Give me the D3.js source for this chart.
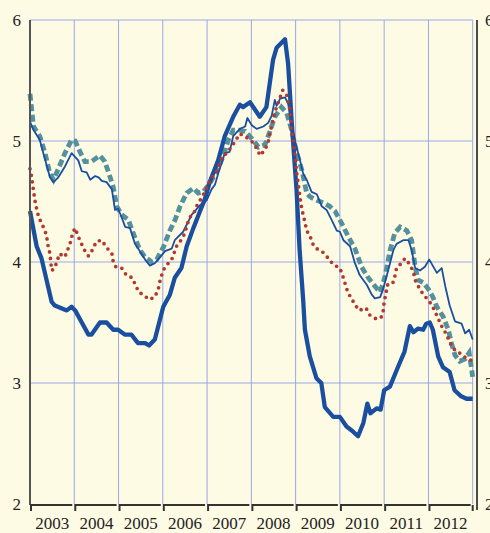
<!DOCTYPE html>
<html>
<head>
<meta charset="utf-8">
<script src="https://cdn.jsdelivr.net/npm/d3@7"></script>
<style>
  html, body { margin: 0; padding: 0; background: #fefbe5; overflow: hidden; }
</style>
</head>
<body>
<div id="chart"></div>
<script>
const years = [2003, 2004, 2005, 2006, 2007, 2008, 2009, 2010, 2011, 2012]
const yTicks = [2, 3, 4, 5, 6]

// [decimal year, value]
const heavyBlue = [
  [2003.00, 4.42], [2003.15, 4.13], [2003.26, 4.03], [2003.49, 3.67], [2003.56, 3.64],
  [2003.83, 3.60], [2003.94, 3.63], [2004.02, 3.60], [2004.17, 3.50], [2004.32, 3.40],
  [2004.39, 3.40], [2004.58, 3.50], [2004.73, 3.50], [2004.88, 3.44], [2004.99, 3.44],
  [2005.14, 3.40], [2005.29, 3.40], [2005.44, 3.33], [2005.60, 3.33], [2005.69, 3.31],
  [2005.82, 3.36], [2006.01, 3.63], [2006.16, 3.73], [2006.27, 3.87], [2006.42, 3.95],
  [2006.54, 4.13], [2006.69, 4.28], [2006.84, 4.42], [2006.95, 4.52], [2007.06, 4.66],
  [2007.25, 4.84], [2007.40, 5.04], [2007.59, 5.20], [2007.74, 5.30], [2007.81, 5.28],
  [2007.97, 5.32], [2008.19, 5.20], [2008.34, 5.28], [2008.49, 5.67], [2008.57, 5.77],
  [2008.76, 5.84], [2008.83, 5.64], [2008.91, 5.17], [2008.98, 4.80], [2009.02, 4.60],
  [2009.09, 4.10], [2009.17, 3.69], [2009.21, 3.44], [2009.32, 3.22], [2009.47, 3.04],
  [2009.58, 3.00], [2009.66, 2.80], [2009.85, 2.72], [2010.00, 2.72], [2010.15, 2.64],
  [2010.26, 2.61], [2010.41, 2.56], [2010.53, 2.67], [2010.62, 2.83], [2010.69, 2.75],
  [2010.83, 2.79], [2010.92, 2.78], [2011.00, 2.94], [2011.13, 2.97], [2011.31, 3.13],
  [2011.46, 3.26], [2011.58, 3.47], [2011.66, 3.42], [2011.77, 3.45], [2011.88, 3.44],
  [2011.95, 3.49], [2012.03, 3.50], [2012.10, 3.44], [2012.22, 3.22], [2012.33, 3.13],
  [2012.48, 3.09], [2012.59, 2.94], [2012.74, 2.89], [2012.86, 2.87], [2013.00, 2.87]
]

const thinBlue = [
  [2003.00, 5.16], [2003.08, 5.09], [2003.22, 5.01], [2003.30, 4.90], [2003.45, 4.70],
  [2003.53, 4.66], [2003.64, 4.70], [2003.79, 4.79], [2003.94, 4.90], [2004.09, 4.84],
  [2004.17, 4.75], [2004.28, 4.74], [2004.36, 4.68], [2004.47, 4.71], [2004.55, 4.70],
  [2004.62, 4.67], [2004.73, 4.66], [2004.85, 4.60], [2004.92, 4.43], [2004.99, 4.44],
  [2005.07, 4.37], [2005.15, 4.29], [2005.26, 4.28], [2005.37, 4.15], [2005.48, 4.09],
  [2005.60, 4.02], [2005.71, 3.97], [2005.82, 3.99], [2005.94, 4.04], [2006.05, 4.09],
  [2006.20, 4.11], [2006.27, 4.18], [2006.46, 4.25], [2006.65, 4.39], [2006.84, 4.47],
  [2006.99, 4.51], [2007.10, 4.60], [2007.18, 4.64], [2007.25, 4.73], [2007.40, 4.90],
  [2007.51, 4.91], [2007.59, 5.04], [2007.74, 5.10], [2007.86, 5.12], [2007.91, 5.19],
  [2008.01, 5.13], [2008.12, 5.10], [2008.27, 5.12], [2008.38, 5.15], [2008.46, 5.21],
  [2008.53, 5.34], [2008.57, 5.29], [2008.65, 5.35], [2008.76, 5.36], [2008.83, 5.31],
  [2008.91, 5.12], [2009.02, 4.95], [2009.10, 4.84], [2009.17, 4.73], [2009.25, 4.68],
  [2009.36, 4.58], [2009.48, 4.56], [2009.59, 4.46], [2009.70, 4.43], [2009.81, 4.35],
  [2009.93, 4.26], [2010.00, 4.25], [2010.08, 4.18], [2010.23, 4.13], [2010.34, 3.99],
  [2010.45, 3.89], [2010.61, 3.81], [2010.72, 3.73], [2010.79, 3.70], [2010.91, 3.71],
  [2010.98, 3.78], [2011.09, 3.93], [2011.21, 4.10], [2011.28, 4.15], [2011.43, 4.18],
  [2011.55, 4.18], [2011.62, 4.10], [2011.70, 3.95], [2011.81, 3.93], [2011.92, 3.96],
  [2012.02, 4.02], [2012.19, 3.91], [2012.30, 3.95], [2012.38, 3.80], [2012.48, 3.64],
  [2012.60, 3.51], [2012.75, 3.49], [2012.83, 3.41], [2012.92, 3.44], [2013.00, 3.36]
]

const tealDashed = [
  [2003.00, 5.39], [2003.08, 5.12], [2003.22, 5.04], [2003.34, 4.90], [2003.45, 4.73],
  [2003.53, 4.68], [2003.64, 4.77], [2003.79, 4.90], [2003.94, 5.01], [2004.02, 5.00],
  [2004.13, 4.91], [2004.24, 4.83], [2004.39, 4.83], [2004.58, 4.88], [2004.69, 4.83],
  [2004.81, 4.70], [2004.88, 4.62], [2004.96, 4.46], [2005.07, 4.39], [2005.22, 4.35],
  [2005.33, 4.24], [2005.48, 4.10], [2005.60, 4.04], [2005.75, 4.00], [2005.86, 4.02],
  [2006.01, 4.12], [2006.16, 4.26], [2006.28, 4.35], [2006.39, 4.46], [2006.54, 4.57],
  [2006.69, 4.61], [2006.80, 4.57], [2006.91, 4.58], [2007.06, 4.65], [2007.22, 4.75],
  [2007.37, 4.88], [2007.48, 5.01], [2007.59, 5.09], [2007.74, 5.09], [2007.86, 5.08],
  [2008.01, 5.02], [2008.16, 4.95], [2008.31, 4.97], [2008.42, 5.08], [2008.53, 5.20],
  [2008.68, 5.28], [2008.80, 5.23], [2008.91, 5.09], [2009.02, 4.91], [2009.14, 4.76],
  [2009.25, 4.57], [2009.32, 4.54], [2009.48, 4.51], [2009.62, 4.49], [2009.77, 4.46],
  [2009.89, 4.42], [2010.04, 4.32], [2010.19, 4.21], [2010.34, 4.11], [2010.49, 3.96],
  [2010.64, 3.87], [2010.79, 3.80], [2010.91, 3.75], [2011.02, 3.88], [2011.13, 4.09],
  [2011.24, 4.24], [2011.36, 4.29], [2011.51, 4.26], [2011.62, 4.18], [2011.70, 3.96],
  [2011.77, 3.85], [2011.88, 3.83], [2011.99, 3.78], [2012.10, 3.71], [2012.19, 3.63],
  [2012.33, 3.55], [2012.45, 3.44], [2012.52, 3.33], [2012.60, 3.23], [2012.71, 3.18],
  [2012.83, 3.20], [2012.92, 3.25], [2013.00, 3.05]
]

const redDotted = [
  [2003.00, 4.77], [2003.04, 4.70], [2003.06, 4.64], [2003.11, 4.51], [2003.15, 4.44],
  [2003.19, 4.38], [2003.26, 4.32], [2003.34, 4.26], [2003.38, 4.20], [2003.41, 4.13],
  [2003.45, 4.07], [2003.49, 3.93], [2003.56, 3.95], [2003.62, 4.02], [2003.68, 4.07],
  [2003.75, 4.04], [2003.81, 4.06], [2003.87, 4.12], [2003.93, 4.18], [2003.96, 4.24],
  [2004.02, 4.28], [2004.08, 4.22], [2004.15, 4.16], [2004.23, 4.10], [2004.32, 4.05],
  [2004.41, 4.10], [2004.50, 4.17], [2004.62, 4.18], [2004.73, 4.12], [2004.85, 4.07],
  [2004.88, 4.00], [2004.94, 3.96], [2005.07, 3.95], [2005.18, 3.89], [2005.31, 3.87],
  [2005.37, 3.82], [2005.46, 3.75], [2005.56, 3.73], [2005.69, 3.69], [2005.82, 3.71],
  [2005.90, 3.78], [2005.94, 3.85], [2005.99, 3.91], [2006.05, 3.96], [2006.20, 4.02],
  [2006.31, 4.13], [2006.43, 4.19], [2006.50, 4.24], [2006.55, 4.31], [2006.61, 4.37],
  [2006.70, 4.40], [2006.76, 4.46], [2006.84, 4.51], [2006.95, 4.58], [2007.06, 4.67],
  [2007.22, 4.75], [2007.33, 4.86], [2007.44, 4.90], [2007.55, 4.95], [2007.67, 5.02],
  [2007.74, 5.06], [2007.89, 5.03], [2008.03, 4.99], [2008.12, 4.94], [2008.20, 4.88],
  [2008.31, 4.93], [2008.38, 4.99], [2008.46, 5.13], [2008.53, 5.24], [2008.61, 5.32],
  [2008.71, 5.42], [2008.80, 5.38], [2008.87, 5.26], [2008.91, 5.10], [2008.95, 4.99],
  [2008.99, 4.87], [2009.02, 4.75], [2009.06, 4.65], [2009.10, 4.53], [2009.13, 4.46],
  [2009.17, 4.39], [2009.21, 4.33], [2009.25, 4.26], [2009.33, 4.21], [2009.40, 4.14],
  [2009.51, 4.10], [2009.62, 4.08], [2009.74, 4.03], [2009.85, 3.98], [2010.00, 3.95],
  [2010.06, 3.89], [2010.12, 3.82], [2010.17, 3.76], [2010.24, 3.71], [2010.34, 3.65],
  [2010.43, 3.60], [2010.59, 3.62], [2010.68, 3.56], [2010.82, 3.53], [2010.93, 3.54],
  [2010.98, 3.60], [2011.00, 3.67], [2011.04, 3.74], [2011.07, 3.81], [2011.19, 3.82],
  [2011.24, 3.88], [2011.28, 3.95], [2011.36, 3.98], [2011.47, 4.03], [2011.58, 3.98],
  [2011.66, 3.92], [2011.70, 3.85], [2011.77, 3.80], [2011.87, 3.74], [2011.96, 3.70],
  [2012.07, 3.65], [2012.15, 3.59], [2012.30, 3.47], [2012.41, 3.40], [2012.49, 3.33],
  [2012.60, 3.27], [2012.70, 3.25], [2012.79, 3.22], [2012.91, 3.20], [2013.00, 3.18]
]

const svgWidth = 490
const svgHeight = 533

const BG = '#fefbe5'
const GRID = '#9aa8e6'
const BLUE = '#1a4fa0'
const TEAL = '#55909d'
const RED = '#b2372c'

const x = d3.scaleLinear().domain([2003, 2013]).range([30, 472.7])
const y = d3.scaleLinear().domain([2, 6]).range([504, 20])

const svg = d3.select('#chart').append('svg').attr('width', svgWidth).attr('height', svgHeight)

svg.append('rect').attr('width', svgWidth).attr('height', svgHeight).attr('fill', BG)

// grid
const grid = svg.append('g')
grid
  .selectAll('line.v')
  .data(years.slice(1).concat([2013]))
  .join('line')
  .attr('x1', (d) => x(d))
  .attr('x2', (d) => x(d))
  .attr('y1', y(6))
  .attr('y2', y(2))
  .attr('stroke', GRID)
  .attr('stroke-width', 1)

grid
  .selectAll('line.h')
  .data(yTicks.filter((d) => d > 2))
  .join('line')
  .attr('x1', x(2003))
  .attr('x2', x(2013))
  .attr('y1', (d) => y(d))
  .attr('y2', (d) => y(d))
  .attr('stroke', GRID)
  .attr('stroke-width', 1)

// series
const line = d3
  .line()
  .x((d) => x(d[0]))
  .y((d) => y(d[1]))

const plot = svg.append('g')

plot
  .append('path')
  .attr('d', line(tealDashed))
  .attr('fill', 'none')
  .attr('stroke', TEAL)
  .attr('stroke-width', 4.8)
  .attr('stroke-dasharray', '7 3.5')

plot
  .append('path')
  .attr('d', line(heavyBlue))
  .attr('fill', 'none')
  .attr('stroke', BLUE)
  .attr('stroke-width', 4.3)
  .attr('stroke-linejoin', 'round')

plot
  .append('path')
  .attr('d', line(thinBlue))
  .attr('fill', 'none')
  .attr('stroke', BLUE)
  .attr('stroke-width', 1.8)
  .attr('stroke-linejoin', 'round')

plot
  .append('path')
  .attr('d', line(redDotted))
  .attr('fill', 'none')
  .attr('stroke', RED)
  .attr('stroke-width', 3.7)
  .attr('stroke-linecap', 'round')
  .attr('stroke-dasharray', '0 6.6')

// axes
svg
  .append('line')
  .attr('x1', x(2003))
  .attr('x2', x(2003))
  .attr('y1', y(6))
  .attr('y2', y(2) + 1)
  .attr('stroke', '#555')
  .attr('stroke-width', 2)

svg
  .append('line')
  .attr('x1', 477)
  .attr('x2', 477)
  .attr('y1', y(6))
  .attr('y2', y(2) + 6)
  .attr('stroke', '#111')
  .attr('stroke-width', 1.5)

const axisY = y(2) + 1
svg
  .append('g')
  .selectAll('path')
  .data(years)
  .join('path')
  .attr('d', (d) => `M${x(d) + 1},${axisY + 6}V${axisY}H${x(d + 1) - 2}`)
  .attr('fill', 'none')
  .attr('stroke', '#333')
  .attr('stroke-width', 2)

svg
  .append('path')
  .attr('d', `M${x(2013)},${axisY}V${axisY + 6}`)
  .attr('stroke', '#333')
  .attr('stroke-width', 2)

const font = '"Liberation Serif", "Times New Roman", serif'

svg
  .append('g')
  .selectAll('text')
  .data(years)
  .join('text')
  .attr('x', (d) => x(d + 0.5))
  .attr('y', 529)
  .attr('text-anchor', 'middle')
  .attr('font-family', font)
  .attr('font-size', 17)
  .attr('fill', '#222')
  .text((d) => d)

svg
  .append('g')
  .selectAll('text')
  .data(yTicks)
  .join('text')
  .attr('x', 21)
  .attr('y', (d) => y(d) + 6)
  .attr('text-anchor', 'end')
  .attr('font-family', font)
  .attr('font-size', 17)
  .attr('fill', '#222')
  .text((d) => d)

svg
  .append('g')
  .selectAll('text')
  .data(yTicks)
  .join('text')
  .attr('x', 485)
  .attr('y', (d) => y(d) + 6)
  .attr('text-anchor', 'start')
  .attr('font-family', font)
  .attr('font-size', 17)
  .attr('fill', '#222')
  .text((d) => d)
</script>
</body>
</html>
